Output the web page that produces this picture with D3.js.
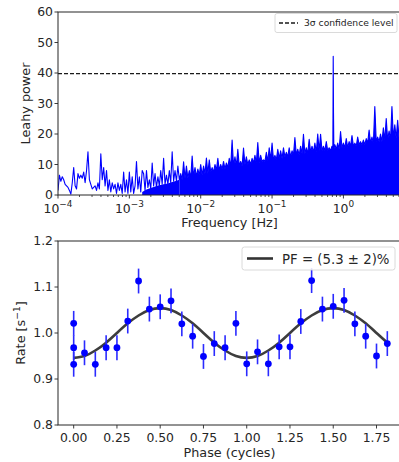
<!DOCTYPE html>
<html><head><meta charset="utf-8">
<script src="https://cdn.jsdelivr.net/npm/d3@7"></script>
<style>
body{margin:0;background:#fff}
text{font-family:"DejaVu Sans",sans-serif;fill:#262626}
</style>
</head><body><svg id="c" width="399" height="462"></svg>
<script>
// ---------------- data: power spectrum ----------------
const sparseLogF = [
-4.00,-3.98,-3.96,-3.94,-3.92,-3.90,-3.88,-3.86,-3.84,-3.82,
-3.80,-3.78,-3.76,-3.74,-3.72,-3.70,-3.68,-3.66,-3.64,-3.62,
-3.60,-3.58,-3.56,-3.54,-3.52,-3.50,-3.48,-3.46,-3.44,-3.42,
-3.40,-3.38,-3.36,-3.34,-3.32,-3.30,-3.28,-3.26,-3.24,-3.22,
-3.20,-3.18,-3.16,-3.14,-3.12,-3.10,-3.08,-3.06,-3.04,-3.02,
-3.00,-2.98,-2.96,-2.94,-2.92,-2.90,-2.88,-2.86,-2.84,-2.82];
const sparsePower = [
1.5,6.5,4.5,6,5,3.5,3,2.5,1.5,0.3,
4,9,3,2,7,5.5,6.5,5.5,7.5,4,
8,14.2,5,3.5,2,2.5,3,1.5,4,2,
13.5,5,9,3,8,1.5,5,1,4,2,
3.5,0.5,4,1.5,3.5,0.5,7.5,1,5,0.5,
7.5,1,6,0.5,3,11,2,6,1,8];
const denseLogF = [
-2.80,-2.78,-2.76,-2.74,-2.72,-2.70,-2.68,-2.66,-2.64,-2.62,
-2.60,-2.58,-2.56,-2.54,-2.52,-2.50,-2.48,-2.46,-2.44,-2.42,
-2.40,-2.38,-2.36,-2.34,-2.32,-2.30,-2.28,-2.26,-2.24,-2.22,
-2.20,-2.18,-2.16,-2.14,-2.12,-2.10,-2.08,-2.06,-2.04,-2.02,
-2.00,-1.98,-1.96,-1.94,-1.92,-1.90,-1.88,-1.86,-1.84,-1.82,
-1.80,-1.78,-1.76,-1.74,-1.72,-1.70,-1.68,-1.66,-1.64,-1.62,
-1.60,-1.58,-1.56,-1.54,-1.52,-1.50,-1.48,-1.46,-1.44,-1.42,
-1.40,-1.38,-1.36,-1.34,-1.32,-1.30,-1.28,-1.26,-1.24,-1.22,
-1.20,-1.18,-1.16,-1.14,-1.12,-1.10,-1.08,-1.06,-1.04,-1.02,
-1.00,-0.98,-0.96,-0.94,-0.92,-0.90,-0.88,-0.86,-0.84,-0.82,
-0.80,-0.78,-0.76,-0.74,-0.72,-0.70,-0.68,-0.66,-0.64,-0.62,
-0.60,-0.58,-0.56,-0.54,-0.52,-0.50,-0.48,-0.46,-0.44,-0.42,
-0.40,-0.38,-0.36,-0.34,-0.32,-0.30,-0.28,-0.26,-0.24,-0.22,
-0.20,-0.18,-0.16,-0.148,-0.143,-0.139,-0.134,-0.12,-0.10,-0.08,-0.06,-0.04,-0.02,
0.00,0.02,0.04,0.06,0.08,0.10,0.12,0.14,0.16,0.18,
0.20,0.22,0.24,0.26,0.28,0.30,0.32,0.34,0.36,0.38,
0.40,0.42,0.44,0.46,0.48,0.50,0.52,0.54,0.56,0.58,
0.60,0.62,0.64,0.66,0.68,0.70,0.72,0.74,0.76,0.78,
0.80,0.82,0.84];
const densePower = [
7,1.5,8,2.5,5,2,10.5,3,7,2.5,
6,3,8,3.5,12,3.5,6.5,3.5,8,4,
14.2,4.5,8,4.5,9.5,5,7,5,10.9,5.5,
9.5,5.5,8,5.5,12.8,6,9,6,8.5,6.5,
10,6.5,9.5,7,12.1,7,11.5,7.5,9,7.5,
10,8,12,8,10,8.5,11,8.5,10.5,9,
12,9,18,9.5,12.5,9.5,15,9.5,11,9.5,
15.4,10,12.5,10,11.5,10,12,10.5,13,10.5,
17.2,10.5,13,11,11.5,11,14,11,15.5,11.5,
17,11.5,13,11.5,15,12,14.5,12,15.5,12.5,
14,12.5,15.5,12.5,14.5,13,18.8,13,15,13,
16,13.5,19.9,13.5,15.5,13.5,18.3,14,16,14,
17,14,20,14.5,19.9,14.5,16,14.5,17.5,14.5,
15.5,14.5,16,15,45.5,27,15,16.5,15,17,15,20.8,15.5,
17,15.5,18.5,15.5,17.5,16,19.5,16,17,16,
19,16.5,17.5,16.5,18,16.5,18.5,17,21.3,17,
19,17,29,17.5,19,17.5,20,17.5,22,18,
25.1,18,21,18,29,18.5,23,18.5,24.5,18.5,
21,18.5,22];
const baseLogF = [-2.82,-2.76,-2.70,-2.64,-2.58,-2.52,-2.46,-2.40,-2.34,-2.30];
const basePower = [1,1.8,2.3,2.8,3.2,3.5,3.8,4.3,4.7,5];
const threshold = 39.8;
const powerTicks = [0,10,20,30,40,50,60];
const freqTickExp = [-4,-3,-2,-1,0];

// ---------------- data: pulse profile ----------------
const phase = [0,0,0,0.0625,0.125,0.1875,0.25,0.3125,0.375,0.4375,0.5,0.5625,0.625,0.6875,0.75,0.8125,0.875,0.9375,
  1.0,1.0625,1.125,1.1875,1.25,1.3125,1.375,1.4375,1.5,1.5625,1.625,1.6875,1.75,1.8125];
const rate = [1.021,0.968,0.932,0.957,0.932,0.968,0.968,1.026,1.113,1.052,1.057,1.070,1.020,0.993,0.949,0.977,0.968,1.021,
  0.933,0.959,0.933,0.970,0.970,1.025,1.114,1.052,1.058,1.071,1.020,0.993,0.950,0.977];
const rateErr = [0.027,0.027,0.027,0.027,0.027,0.027,0.027,0.027,0.027,0.027,0.027,0.027,0.027,0.027,0.027,0.027,0.027,0.027,
  0.027,0.027,0.027,0.027,0.027,0.027,0.027,0.027,0.027,0.027,0.027,0.027,0.027,0.027];
const fitPhase = [0,0.0625,0.125,0.1875,0.25,0.3125,0.375,0.4375,0.5,0.5625,0.625,0.6875,0.75,0.8125,0.875,0.9375,
  1.0,1.0625,1.125,1.1875,1.25,1.3125,1.375,1.4375,1.5,1.5625,1.625,1.6875,1.75,1.8125];
const fitRate = [0.946,0.950,0.962,0.979,1.000,1.021,1.038,1.050,1.054,1.050,1.038,1.021,1.000,0.979,0.962,0.950,
  0.946,0.950,0.962,0.979,1.000,1.021,1.038,1.050,1.054,1.050,1.038,1.021,1.000,0.979];
const phaseTicks = [0,0.25,0.5,0.75,1.0,1.25,1.5,1.75];
const rateTicks = [0.8,0.9,1.0,1.1,1.2];
const legendTop = "3σ confidence level";
const legendBottom = "PF = (5.3 ± 2)%";

// ---------------- drawing ----------------
const svg = d3.select("#c");
const L = 58, R = 403;
const blue = "#0000ff", ink = "#262626";
const FS = 12.4;

// ===== top panel =====
const T1 = 12, B1 = 195;
const x1 = d3.scaleLog().domain([1e-4, Math.pow(10, 0.835)]).range([L, R]);
const y1 = d3.scaleLinear().domain([0, 60]).range([B1, T1]);
svg.append("clipPath").attr("id","cp1").append("rect").attr("x",L).attr("y",T1).attr("width",R-L).attr("height",B1-T1);
const g1 = svg.append("g").attr("clip-path","url(#cp1)");

const baseData = baseLogF.map((v,i)=>[Math.pow(10,v), basePower[i]]);
g1.append("path").datum(baseData)
  .attr("d", d3.area().x(d=>x1(d[0])).y0(y1(0)).y1(d=>y1(d[1])))
  .attr("fill", blue);
const denseData = denseLogF.map((v,i)=>[Math.pow(10,v), densePower[i]]);
g1.append("path").datum(denseData.filter(d=>d[0] >= Math.pow(10,-2.301)))
  .attr("d", d3.area().x(d=>x1(d[0])).y0(y1(0)).y1(d=>y1(d[1])))
  .attr("fill", blue);
const lineData = sparseLogF.map((v,i)=>[Math.pow(10,v), sparsePower[i]]).concat(denseData);
g1.append("path").datum(lineData)
  .attr("d", d3.line().x(d=>x1(d[0])).y(d=>y1(d[1])))
  .attr("fill","none").attr("stroke", blue).attr("stroke-width", 1.1).attr("stroke-linejoin","round");
g1.append("line").attr("x1",L).attr("x2",R).attr("y1",y1(threshold)).attr("y2",y1(threshold))
  .attr("stroke","#1a1a1a").attr("stroke-width",1.3).attr("stroke-dasharray","4,2");

// axes top
const ax1 = svg.append("g").attr("transform",`translate(0,${B1})`);
const minor = [];
for (let e=-4; e<=0; e++) for (let m=2; m<=9; m++) { const v = m*Math.pow(10,e); if (v <= x1.domain()[1]) minor.push(v); }
ax1.selectAll(".mn").data(minor).enter().append("line")
  .attr("x1",d=>x1(d)).attr("x2",d=>x1(d)).attr("y1",0).attr("y2",2).attr("stroke",ink).attr("stroke-width",0.8);
ax1.selectAll(".mj").data(freqTickExp).enter().append("line")
  .attr("x1",d=>x1(Math.pow(10,d))).attr("x2",d=>x1(Math.pow(10,d))).attr("y1",0).attr("y2",3.5).attr("stroke",ink).attr("stroke-width",0.9);
const tl = ax1.selectAll(".tl").data(freqTickExp).enter().append("text")
  .attr("x",d=>x1(Math.pow(10,d))).attr("y",17.5).attr("text-anchor","middle").attr("font-size",FS);
tl.append("tspan").text("10");
tl.append("tspan").attr("dy",-5.5).attr("font-size",FS*0.72).text(d=>d<0 ? "−"+(-d) : String(d));
const ay1 = svg.append("g");
ay1.selectAll("line").data(powerTicks).enter().append("line")
  .attr("x1",L-3.5).attr("x2",L).attr("y1",d=>y1(d)).attr("y2",d=>y1(d)).attr("stroke",ink).attr("stroke-width",0.9);
ay1.selectAll("text").data(powerTicks).enter().append("text")
  .attr("x",L-5).attr("y",d=>y1(d)).attr("dy","0.36em").attr("text-anchor","end").attr("font-size",FS).text(d=>d);
svg.append("rect").attr("x",L).attr("y",T1).attr("width",R-L).attr("height",B1-T1)
  .attr("fill","none").attr("stroke",ink).attr("stroke-width",1);
svg.append("text").attr("x",(L+R)/2 - 1).attr("y",226.5).attr("text-anchor","middle").attr("font-size",12.8).text("Frequency [Hz]");
svg.append("text").attr("transform",`translate(30,${(T1+B1)/2}) rotate(-90)`).attr("text-anchor","middle").attr("font-size",12.8).text("Leahy power");

// legend top
const lg1 = svg.append("g");
lg1.append("rect").attr("x",275).attr("y",13.5).attr("width",122).attr("height",19).attr("rx",2)
  .attr("fill","#fff").attr("fill-opacity",0.85).attr("stroke","#d0d0d0").attr("stroke-width",0.8);
lg1.append("line").attr("x1",279).attr("x2",298).attr("y1",23).attr("y2",23)
  .attr("stroke","#1a1a1a").attr("stroke-width",1.3).attr("stroke-dasharray","4,2");
lg1.append("text").attr("x",304).attr("y",26.3).attr("font-size",9.2).text(legendTop);

// ===== bottom panel =====
const T2 = 241, B2 = 425;
const x2 = d3.scaleLinear().domain([-0.090625, 1.903125]).range([L, R]);
const y2 = d3.scaleLinear().domain([0.8, 1.2]).range([B2, T2]);
const g2 = svg.append("g");
g2.append("path").datum(fitPhase.map((p,i)=>[p, fitRate[i]]))
  .attr("d", d3.line().curve(d3.curveNatural).x(d=>x2(d[0])).y(d=>y2(d[1])))
  .attr("fill","none").attr("stroke","#333").attr("stroke-width",2.6).attr("stroke-opacity",0.95);
const pts = phase.map((p,i)=>({p, r:rate[i], e:rateErr[i]}));
g2.selectAll(".eb").data(pts).enter().append("line")
  .attr("x1",d=>x2(d.p)).attr("x2",d=>x2(d.p)).attr("y1",d=>y2(d.r-d.e)).attr("y2",d=>y2(d.r+d.e))
  .attr("stroke","#2b2bff").attr("stroke-width",1.6);
g2.selectAll(".pt").data(pts).enter().append("circle")
  .attr("cx",d=>x2(d.p)).attr("cy",d=>y2(d.r)).attr("r",3.4).attr("fill",blue);

const ax2 = svg.append("g");
ax2.selectAll("line").data(phaseTicks).enter().append("line")
  .attr("x1",d=>x2(d)).attr("x2",d=>x2(d)).attr("y1",B2).attr("y2",B2+3.5).attr("stroke",ink).attr("stroke-width",0.9);
ax2.selectAll("text").data(phaseTicks).enter().append("text")
  .attr("x",d=>x2(d)).attr("y",B2+17).attr("text-anchor","middle").attr("font-size",FS).text(d=>d.toFixed(2));
const ay2 = svg.append("g");
ay2.selectAll("line").data(rateTicks).enter().append("line")
  .attr("x1",L-3.5).attr("x2",L).attr("y1",d=>y2(d)).attr("y2",d=>y2(d)).attr("stroke",ink).attr("stroke-width",0.9);
ay2.selectAll("text").data(rateTicks).enter().append("text")
  .attr("x",L-5).attr("y",d=>y2(d)).attr("dy","0.36em").attr("text-anchor","end").attr("font-size",FS).text(d=>d.toFixed(1));
svg.append("rect").attr("x",L).attr("y",T2).attr("width",R-L).attr("height",B2-T2)
  .attr("fill","none").attr("stroke",ink).attr("stroke-width",1);
svg.append("text").attr("x",(L+R)/2 - 1).attr("y",457).attr("text-anchor","middle").attr("font-size",12.8).text("Phase (cycles)");
const rl = svg.append("text").attr("transform",`translate(25,${(T2+B2)/2}) rotate(-90)`).attr("text-anchor","middle").attr("font-size",12.8);
rl.append("tspan").text("Rate [s");
rl.append("tspan").attr("dy",-5.5).attr("font-size",12.8*0.72).text("−1");
rl.append("tspan").attr("dy",5.5).text("]");

// legend bottom
const lg2 = svg.append("g");
lg2.append("rect").attr("x",242).attr("y",247).attr("width",153).attr("height",23).attr("rx",2.5)
  .attr("fill","#fff").attr("fill-opacity",0.85).attr("stroke","#d0d0d0").attr("stroke-width",0.8);
lg2.append("line").attr("x1",247).attr("x2",273).attr("y1",258.5).attr("y2",258.5)
  .attr("stroke","#333").attr("stroke-width",2.6);
lg2.append("text").attr("x",282).attr("y",263.5).attr("font-size",13.3).text(legendBottom);
</script>
</body></html>
